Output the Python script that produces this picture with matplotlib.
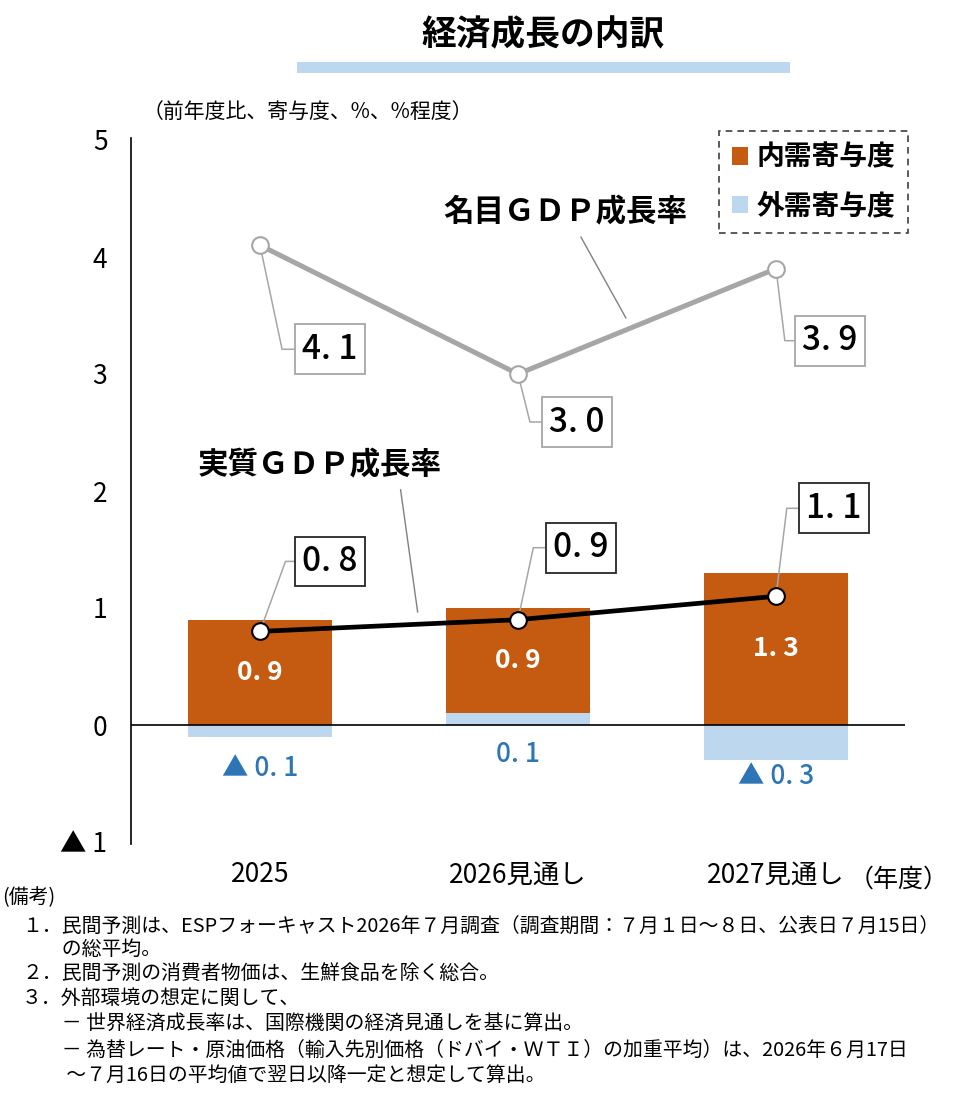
import matplotlib
matplotlib.use('Agg')
import matplotlib.pyplot as plt
from matplotlib.patches import Patch, Rectangle
import numpy as np

plt.rcParams['font.family'] = ['Noto Sans CJK JP', 'DejaVu Sans']

# ---- data ----
categories = ['2025', '2026見通し', '2027見通し']
domestic = [0.9, 0.9, 1.3]          # 内需寄与度
external = [-0.1, 0.1, -0.3]        # 外需寄与度
real_gdp = [0.8, 0.9, 1.1]          # 実質GDP成長率
nominal_gdp = [4.1, 3.0, 3.9]       # 名目GDP成長率
yticks = [-1, 0, 1, 2, 3, 4, 5]
ytick_labels = ['▲ 1', '0', '1', '2', '3', '4', '5']

notes = [
    '(備考)',
    '１．民間予測は、ESPフォーキャスト2026年７月調査（調査期間：７月１日～８日、公表日７月15日）',
    '　　の総平均。',
    '２．民間予測の消費者物価は、生鮮食品を除く総合。',
    '３．外部環境の想定に関して、',
    '　　－ 世界経済成長率は、国際機関の経済見通しを基に算出。',
    '　　－ 為替レート・原油価格（輸入先別価格（ドバイ・ＷＴＩ）の加重平均）は、2026年６月17日',
    '　　 ～７月16日の平均値で翌日以降一定と想定して算出。',
]

ORANGE = '#c55a11'
LBLUE = '#bdd7ee'
BLUE_TXT = '#2e75b6'
GRAY = '#a6a6a6'


def fmt(v):
    s = f'{abs(v):.1f}'.replace('.', '. ')
    return ('▲ ' + s) if v < 0 else s


W, H = 964, 1101
fig = plt.figure(figsize=(W / 100, H / 100), dpi=100)
ax = fig.add_axes([131 / W, 1 - 842 / H, (905 - 131) / W, (842 - 140) / H])

x = np.arange(len(categories))
bottoms = [e if e > 0 else 0 for e in external]

ax.bar(x, external, width=0.56, color=LBLUE, zorder=2)
ax.bar(x, domestic, width=0.56, bottom=bottoms, color=ORANGE, zorder=2)
ax.axhline(0, color='black', lw=1.2, zorder=3)

# bar value labels
for i in range(len(x)):
    ax.text(x[i], bottoms[i] + domestic[i] / 2, fmt(domestic[i]), color='white',
            ha='center', va='center', fontsize=19, fontweight='bold', zorder=4)
ext_off = [32, 30, 16]
for i in range(len(x)):
    ax.annotate(fmt(external[i]), xy=(x[i], min(external[i], 0)), xytext=(0, -ext_off[i]),
                textcoords='offset pixels', ha='center', va='center',
                color=BLUE_TXT, fontsize=19, fontweight='medium', zorder=4)

# lines
ax.plot(x, nominal_gdp, color=GRAY, lw=3.6, marker='o', ms=12,
        mfc='white', mec=GRAY, mew=1.5, zorder=6, solid_capstyle='round')
ax.plot(x, real_gdp, color='black', lw=3.4, marker='o', ms=12,
        mfc='white', mec='black', mew=1.5, zorder=6, solid_capstyle='round')

# boxed labels
nom_off = [(70, -104), (59, -48), (54, -72)]
nom_ang = [-78, -76, -83]
for i in range(len(x)):
    ax.annotate(fmt(nominal_gdp[i]), xy=(x[i], nominal_gdp[i]), xytext=nom_off[i],
                textcoords='offset pixels', ha='center', va='center', fontsize=24,
                fontweight='medium',
                bbox=dict(boxstyle='square,pad=0.22', fc='white', ec=GRAY, lw=1.3),
                arrowprops=dict(arrowstyle='-', color=GRAY, lw=1.1, shrinkA=0, shrinkB=0,
                                connectionstyle=f'angle,angleA=0,angleB={nom_ang[i]},rad=0'),
                zorder=4)
real_off = [(70, 70), (63, 72), (58, 88)]
real_ang = [70, 78, 83]
for i in range(len(x)):
    ax.annotate(fmt(real_gdp[i]), xy=(x[i], real_gdp[i]), xytext=real_off[i],
                textcoords='offset pixels', ha='center', va='center', fontsize=24,
                fontweight='medium',
                bbox=dict(boxstyle='square,pad=0.22', fc='white', ec='#262626', lw=1.3),
                arrowprops=dict(arrowstyle='-', color=GRAY, lw=1.1, shrinkA=0, shrinkB=0,
                                connectionstyle=f'angle,angleA=0,angleB={real_ang[i]},rad=0'),
                zorder=4)

# series name labels with leader lines
ax.text(1.185, 4.385, '名目ＧＤＰ成長率', ha='center', va='center', fontsize=22, fontweight='bold')
ax.plot([1.244, 1.418], [4.17, 3.48], color='#808080', lw=1.0, zorder=3)
ax.text(0.232, 2.22, '実質ＧＤＰ成長率', ha='center', va='center', fontsize=22, fontweight='bold')
ax.plot([0.545, 0.611], [2.01, 0.966], color='#808080', lw=1.0, zorder=3)

# axes styling
ax.set_xlim(-0.5, 2.5)
ax.set_ylim(-1.0, 5.0)
ax.set_yticks(yticks, ytick_labels)
ax.set_xticks(x, categories)
ax.tick_params(axis='y', length=0, pad=17, labelsize=19)
ax.tick_params(axis='x', length=0, pad=14, labelsize=19)
for s in ['top', 'right', 'bottom']:
    ax.spines[s].set_visible(False)
ax.spines['left'].set_linewidth(1.2)
ax.spines['left'].set_bounds(-1.02, 5.02)

# legend
handles = [Patch(facecolor=ORANGE, edgecolor='none', label='内需寄与度'),
           Patch(facecolor=LBLUE, edgecolor='none', label='外需寄与度')]
leg = fig.legend(handles=handles, loc='upper right', bbox_to_anchor=(908 / W, 1 - 131 / H),
                 prop=dict(size=20, weight='bold'), handlelength=0.6, handleheight=0.6,
                 handletextpad=0.3, labelspacing=0.75, borderpad=0.45, borderaxespad=0,
                 fancybox=False, framealpha=1, edgecolor='#404040')
leg.get_frame().set_linestyle((0, (4, 3)))
leg.get_frame().set_linewidth(1.2)

# title and decoration
fig.text(543 / W, 1 - 35 / H, '経済成長の内訳', ha='center', va='center', fontsize=25, fontweight='bold')
fig.patches.append(Rectangle((297 / W, 1 - 73 / H), (790 - 297) / W, 11 / H,
                             transform=fig.transFigure, facecolor=LBLUE, edgecolor='none'))
fig.text(143 / W, 1 - 112 / H, '（前年度比、寄与度、%、%程度）', ha='left', va='center', fontsize=15)
fig.text(899 / W, 1 - 880 / H, '（年度）', ha='center', va='center', fontsize=18)

# notes
note_y = [898, 926, 949, 973, 998, 1024, 1050, 1075]
for t, yy in zip(notes, note_y):
    fig.text(2 / W if t.startswith('(') else 22 / W, 1 - yy / H, t, ha='left', va='center',
             fontsize=14.3)

fig.savefig('out.png', dpi=100)
